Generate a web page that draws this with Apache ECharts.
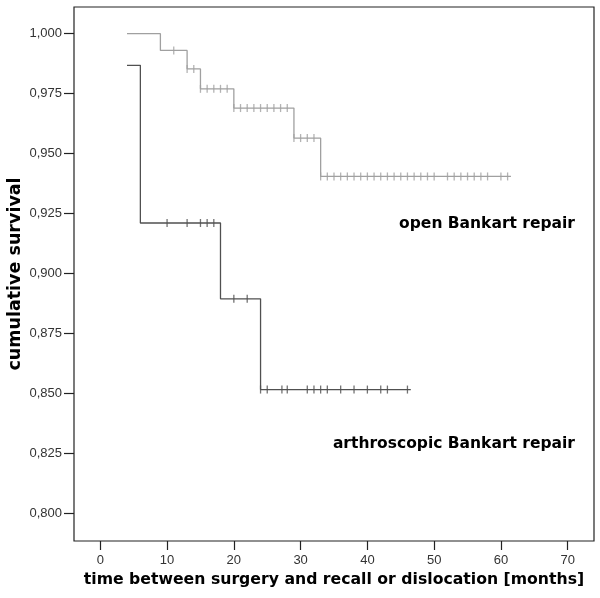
<!DOCTYPE html>
<html>
<head>
<meta charset="utf-8">
<script src="https://cdn.jsdelivr.net/npm/echarts@6/dist/echarts.min.js"></script>
<style>html,body{margin:0;padding:0;background:#fff}#c{width:600px;height:598px}</style>
</head>
<body>
<div id="c"></div>
<script>
// ---- data ----
const xTicks = [0, 10, 20, 30, 40, 50, 60, 70];
const yTicks = [0.800, 0.825, 0.850, 0.875, 0.900, 0.925, 0.950, 0.975, 1.000];

// open Bankart repair: step times and survival levels
const openTimes = [4, 9, 13, 15, 20, 29, 33];
const openSurv  = [1.000, 0.9930, 0.9853, 0.9770, 0.9690, 0.9565, 0.9405];
const openEnd = 61.5;
const openCensor = [11, 13, 14, 15, 16, 17, 18, 19, 20, 21, 22, 23, 24, 25, 26, 27, 28,
  29, 30, 31, 32, 33, 34, 35, 36, 37, 38, 39, 40, 41, 42, 43, 44, 45, 46, 47, 48, 49, 50,
  52, 53, 54, 55, 56, 57, 58, 60, 61];

// arthroscopic Bankart repair
const arthTimes = [4, 6, 18, 24];
const arthSurv  = [0.9868, 0.9211, 0.8895, 0.8517];
const arthEnd = 46.5;
const arthCensor = [10, 13, 15, 16, 17, 20, 22, 24, 25, 27.2, 28, 31, 32, 33, 34, 36, 38, 40, 42, 43, 46];

// ---- helpers ----
function stepLine(times, surv, end) {
  const d = times.map((t, i) => [t, surv[i]]);
  d.push([end, surv[surv.length - 1]]);
  return d;
}
function survAt(times, surv, t) {
  let s = surv[0];
  for (let i = 0; i < times.length; i++) if (times[i] <= t) s = surv[i];
  return s;
}
const fmt = v => v.toFixed(3).replace('.', ',');

const openCol = '#a0a0a0';
const arthCol = '#505050';

const chart = echarts.init(document.getElementById('c'), null, {renderer: 'canvas'});
chart.setOption({
  animation: false,
  backgroundColor: '#fff',
  grid: {left: 74, top: 7, right: 6, bottom: 57, containLabel: false, outerBoundsMode: 'none',
         show: true, borderColor: '#222', borderWidth: 1.2, backgroundColor: '#fff'},
  xAxis: {
    type: 'value', min: -3.94, max: 73.94,
    axisLine: {show: false, onZero: false},
    splitLine: {show: false},
    axisTick: {show: true, length: 9, customValues: xTicks, lineStyle: {color: '#222', width: 1.2}},
    axisLabel: {customValues: xTicks, margin: 13, color: '#333', fontFamily: 'Liberation Sans', fontSize: 13},
    name: 'time between surgery and recall or dislocation [months]',
    nameLocation: 'middle', nameGap: 31, nameMoveOverlap: false,
    nameTextStyle: {fontFamily: 'DejaVu Sans', fontWeight: 'bold', fontSize: 15.7, color: '#000'}
  },
  yAxis: {
    type: 'value', min: 0.7886, max: 1.0111,
    axisLine: {show: false, onZero: false},
    splitLine: {show: false},
    axisTick: {show: true, length: 10, customValues: yTicks, lineStyle: {color: '#222', width: 1.2}},
    axisLabel: {customValues: yTicks, margin: 12, color: '#333', fontFamily: 'Liberation Sans', fontSize: 13, formatter: fmt},
    name: 'cumulative survival',
    nameLocation: 'middle', nameGap: 50, nameRotate: 90, nameMoveOverlap: false,
    nameTextStyle: {fontFamily: 'DejaVu Sans', fontWeight: 'bold', fontSize: 17.5, color: '#000'}
  },
  series: [
    {type: 'line', step: 'end', showSymbol: false, data: stepLine(openTimes, openSurv, openEnd),
     lineStyle: {color: openCol, width: 1.3}, z: 2},
    {type: 'line', step: 'end', showSymbol: false, data: stepLine(arthTimes, arthSurv, arthEnd),
     lineStyle: {color: arthCol, width: 1.3}, z: 3},
    {type: 'scatter', symbol: 'rect', symbolSize: [1.3, 8],
     data: openCensor.map(t => [t, survAt(openTimes, openSurv, t)]),
     itemStyle: {color: openCol}, z: 4},
    {type: 'scatter', symbol: 'rect', symbolSize: [1.3, 8],
     data: arthCensor.map(t => [t, survAt(arthTimes, arthSurv, t)]),
     itemStyle: {color: arthCol}, z: 5}
  ],
  graphic: [
    {type: 'text', x: 575, y: 224, style: {text: 'open Bankart repair', align: 'right', verticalAlign: 'middle',
      fontFamily: 'DejaVu Sans', fontWeight: 'bold', fontSize: 15.5, fill: '#000'}},
    {type: 'text', x: 575, y: 444, style: {text: 'arthroscopic Bankart repair', align: 'right', verticalAlign: 'middle',
      fontFamily: 'DejaVu Sans', fontWeight: 'bold', fontSize: 15.5, fill: '#000'}}
  ]
});
</script>
</body>
</html>
